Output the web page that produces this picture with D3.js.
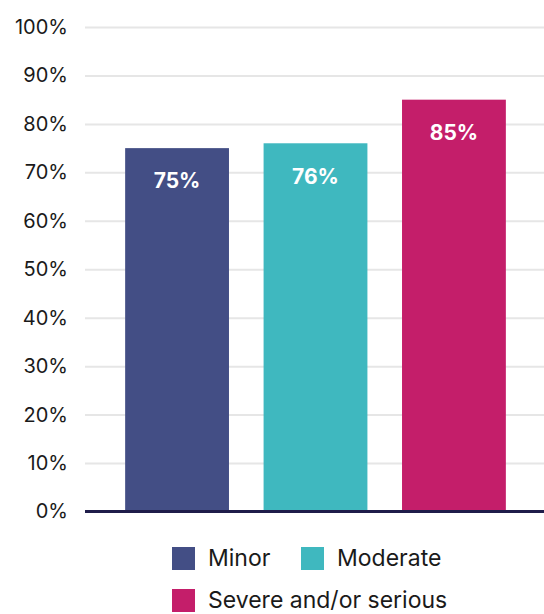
<!DOCTYPE html>
<html>
<head>
<meta charset="utf-8">
<script src="https://cdn.jsdelivr.net/npm/d3@7/dist/d3.min.js"></script>
<style>
  html, body { margin: 0; padding: 0; background: #fff; }
  svg { display: block; font-family: Inter, "Noto Sans", sans-serif; }
</style>
</head>
<body>
<svg id="chart" width="544" height="614"></svg>
<script>
// Share of cases by severity
const categories = ["Minor", "Moderate", "Severe and/or serious"];
const values = [75, 76, 85];
const colors = ["#434e85", "#3fb8bf", "#c41e6a"];
const yTicks = [0, 10, 20, 30, 40, 50, 60, 70, 80, 90, 100];

const svg = d3.select("#chart");
const plot = { left: 85, right: 546, top: 27, bottom: 511.5 };

const x = d3.scaleBand().domain(categories).range([plot.left, plot.right])
  .paddingInner(0.25).paddingOuter(0.29);
const y = d3.scaleLinear().domain([0, 100]).range([plot.bottom, plot.top]);

// gridlines and tick labels
const yAxis = d3.axisLeft(y).tickValues(yTicks)
  .tickFormat(d => d + "%").tickSize(-(544 - plot.left)).tickPadding(17);
const ga = svg.append("g").attr("transform", `translate(${plot.left},0)`).call(yAxis);
ga.select(".domain").remove();
ga.selectAll(".tick line").attr("stroke", "#e6e6e6").attr("stroke-width", 2);
ga.selectAll(".tick text").attr("fill", "#1a1a1a")
  .style("font-size", "20px").style("font-family", "Inter, sans-serif");

// bars
svg.append("g").selectAll("rect").data(values).join("rect")
  .attr("x", (d, i) => x(categories[i]))
  .attr("width", x.bandwidth())
  .attr("y", d => y(d))
  .attr("height", d => y(0) - y(d))
  .attr("fill", (d, i) => colors[i]);

// value labels inside bars
svg.append("g").selectAll("text").data(values).join("text")
  .attr("x", (d, i) => x(categories[i]) + x.bandwidth() / 2)
  .attr("y", d => y(d) + 33)
  .attr("dy", "0.35em")
  .attr("text-anchor", "middle")
  .attr("fill", "#fff")
  .style("font-size", "21px").style("font-weight", 700)
  .text(d => d + "%");

// baseline
svg.append("line")
  .attr("x1", plot.left).attr("x2", 544)
  .attr("y1", y(0)).attr("y2", y(0))
  .attr("stroke", "#1f1d4a").attr("stroke-width", 3);

// legend
const legendPos = [[172, 547], [301, 547], [172, 589]];
const lg = svg.append("g").selectAll("g").data(categories).join("g")
  .attr("transform", (d, i) => `translate(${legendPos[i][0]},${legendPos[i][1]})`);
lg.append("rect").attr("width", 23).attr("height", 23)
  .attr("fill", (d, i) => colors[i]);
lg.append("text").attr("x", 36).attr("y", 11).attr("dy", "0.36em")
  .attr("fill", "#1a1a1a").style("font-size", "23px")
  .text(d => d);
</script>
</body>
</html>
